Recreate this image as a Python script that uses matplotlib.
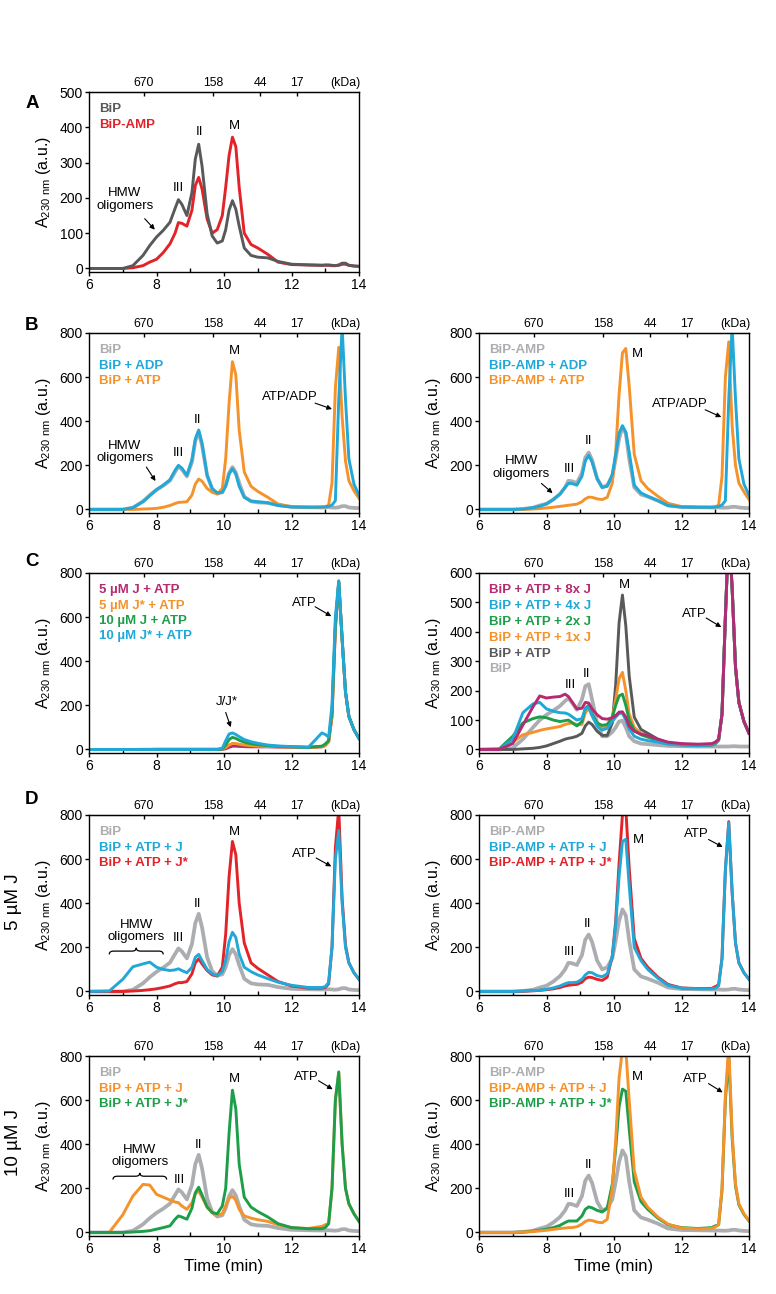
import numpy as np
import matplotlib
matplotlib.use('Agg')
import matplotlib.pyplot as plt
from matplotlib.path import Path
from matplotlib.patches import PathPatch

plt.rcParams['font.family'] = ['Liberation Sans', 'DejaVu Sans']
plt.rcParams['mathtext.fontset'] = 'custom'
plt.rcParams['mathtext.rm'] = 'Liberation Sans'

# elution time grid (min), shared by all traces
t_min = [6.0, 6.6, 7.0, 7.3, 7.6, 7.8, 8.0, 8.2, 8.4, 8.55, 8.65,
         8.75, 8.9, 9.05, 9.15, 9.25, 9.35, 9.5, 9.65, 9.8, 9.95, 10.05,
         10.15, 10.25, 10.35, 10.45, 10.6, 10.8, 11.0, 11.3, 11.6, 12.0, 12.5,
         12.9, 13.0, 13.1, 13.2, 13.3, 13.4, 13.5, 13.6, 13.7, 13.85, 14.0]

# size standards on the top axis
kda_times = [7.62, 9.68, 11.07, 12.16]
kda_labels = ['670', '158', '44', '17']

# --- A / B traces ---
bip = [0, 0, 0, 8, 37, 65, 89, 108, 131, 170, 195,
       182, 150, 215, 310, 352, 290, 155, 92, 72, 78, 110,
       165, 192, 168, 120, 58, 37, 32, 30, 20, 12, 10,
       9, 10, 10, 9, 8, 10, 15, 15, 9, 7, 6]
bip_amp = [0, 0, 0, 2, 8, 18, 26, 45, 70, 100, 130,
           128, 120, 165, 235, 258, 225, 140, 100, 110, 150, 230,
           320, 372, 345, 230, 100, 68, 58, 40, 18, 11, 10,
           9, 9, 9, 8, 8, 9, 12, 12, 9, 7, 6]
bip_adp = [0, 0, 0, 8, 35, 62, 90, 110, 135, 178, 200,
           188, 155, 225, 320, 360, 300, 155, 95, 75, 78, 105,
           160, 185, 160, 105, 55, 38, 35, 30, 18, 11, 10,
           11, 12, 14, 20, 40, 500, 830, 500, 230, 115, 65]
bip_atp = [0, 0, 0, 0, 2, 3, 5, 10, 18, 27, 32,
           33, 35, 65, 115, 138, 128, 95, 78, 70, 95, 230,
           480, 670, 610, 360, 170, 105, 82, 55, 25, 12, 10,
           10, 12, 20, 120, 550, 735, 420, 220, 130, 85, 50]
bipamp_adp = [0, 0, 0, 2, 8, 15, 25, 45, 70, 100, 118,
              118, 110, 150, 220, 245, 215, 140, 100, 105, 160, 250,
              345, 380, 350, 260, 110, 75, 60, 40, 18, 11, 10,
              10, 11, 14, 20, 40, 500, 830, 500, 230, 115, 65]
bipamp_atp = [0, 0, 0, 0, 2, 4, 7, 10, 14, 17, 19,
              21, 24, 35, 48, 56, 55, 48, 45, 55, 120, 260,
              520, 710, 730, 560, 250, 130, 95, 60, 28, 13, 10,
              10, 12, 20, 150, 600, 760, 380, 200, 120, 80, 45]

# --- C left: J alone ---
j5_atp = [0, 0, 0, 0, 0, 0, 0, 0, 0, 0, 0,
          0, 0, 0, 0, 0, 0, 0, 0, 0, 1, 3,
          10, 15, 15, 14, 13, 12, 12, 12, 11, 10, 9,
          12, 18, 35, 150, 550, 760, 500, 260, 150, 90, 50]
js5_atp = [0, 0, 0, 0, 1, 1, 2, 2, 2, 2, 2,
           2, 2, 2, 2, 2, 2, 2, 2, 2, 3, 8,
           20, 28, 27, 24, 20, 17, 15, 13, 12, 11, 10,
           12, 18, 35, 150, 550, 760, 500, 260, 150, 90, 50]
j10_atp = [0, 0, 0, 0, 0, 0, 0, 0, 0, 0, 0,
           0, 0, 0, 0, 0, 0, 0, 0, 0, 2, 20,
           45, 55, 50, 42, 33, 26, 22, 17, 14, 12, 10,
           15, 25, 40, 170, 570, 760, 500, 260, 150, 90, 50]
js10_atp = [0, 0, 0, 0, 0, 0, 0, 0, 0, 0, 0,
            0, 0, 0, 0, 0, 0, 0, 0, 0, 5, 40,
            70, 75, 68, 58, 45, 35, 28, 20, 16, 13, 10,
            75, 68, 56, 200, 600, 765, 500, 260, 150, 90, 50]

# --- C right: J titration ---
bip_c = [0, 0, 5, 35, 75, 100, 118, 132, 148, 165, 174,
         160, 135, 170, 215, 222, 170, 90, 45, 45, 60, 75,
         95, 98, 75, 45, 28, 20, 18, 15, 12, 11, 10,
         10, 10, 10, 10, 10, 10, 11, 11, 10, 10, 10]
bip_atp_c = [0, 0, 0, 2, 4, 7, 12, 20, 28, 35, 38,
             40, 45, 55, 80, 93, 85, 62, 48, 48, 90, 220,
             430, 525, 420, 250, 110, 68, 55, 35, 22, 18, 15,
             15, 20, 32, 120, 450, 750, 550, 280, 160, 95, 55]
bip_1j = [0, 0, 25, 50, 58, 65, 70, 74, 78, 85, 88,
          90, 85, 85, 125, 140, 115, 85, 75, 80, 110, 170,
          240, 262, 200, 120, 75, 55, 45, 30, 20, 16, 14,
          15, 20, 32, 120, 450, 750, 550, 280, 160, 95, 55]
bip_2j = [0, 2, 45, 90, 105, 111, 108, 100, 95, 98, 100,
          92, 80, 95, 140, 150, 120, 90, 82, 85, 110, 150,
          182, 188, 150, 100, 65, 50, 42, 30, 20, 16, 14,
          15, 20, 32, 120, 450, 750, 550, 280, 160, 95, 55]
bip_4j = [0, 0, 35, 125, 155, 160, 138, 130, 125, 124, 120,
          112, 100, 105, 138, 145, 115, 80, 66, 72, 95, 110,
          122, 123, 100, 70, 45, 35, 30, 25, 18, 15, 13,
          15, 20, 32, 120, 450, 750, 550, 280, 160, 95, 55]
bip_8j = [0, 0, 20, 83, 145, 182, 175, 178, 180, 188, 180,
          163, 138, 140, 160, 158, 138, 118, 105, 103, 108, 115,
          127, 128, 110, 80, 62, 52, 48, 35, 25, 20, 18,
          20, 25, 35, 120, 450, 750, 550, 280, 160, 95, 55]

# --- D: 5 uM J ---
bip_atp_j5 = [0, 2, 55, 112, 125, 133, 110, 100, 95, 98, 103,
              95, 85, 110, 155, 168, 140, 100, 80, 72, 90, 140,
              225, 268, 245, 170, 110, 90, 75, 58, 42, 28, 18,
              18, 22, 40, 200, 600, 730, 400, 200, 130, 85, 55]
bip_atp_js5 = [0, 0, 0, 2, 5, 8, 12, 18, 25, 35, 40,
               40, 45, 80, 130, 148, 125, 95, 75, 70, 110, 260,
               520, 680, 620, 400, 220, 130, 105, 75, 45, 25, 15,
               15, 18, 35, 200, 650, 830, 420, 210, 130, 85, 55]
bipamp_atp_j5 = [0, 0, 0, 2, 4, 6, 10, 16, 25, 35, 40,
                 40, 42, 55, 75, 87, 85, 72, 67, 80, 160, 300,
                 520, 680, 690, 480, 200, 140, 100, 60, 28, 15, 12,
                 12, 15, 25, 150, 550, 765, 450, 220, 130, 85, 55]
bipamp_atp_js5 = [0, 0, 0, 1, 3, 5, 8, 12, 18, 25, 28,
                  30, 32, 42, 58, 65, 63, 55, 50, 65, 160, 320,
                  580, 800, 830, 560, 240, 150, 110, 65, 32, 16, 13,
                  14, 22, 30, 150, 550, 770, 450, 220, 130, 85, 55]

# --- D: 10 uM J ---
bip_atp_j10 = [0, 0, 80, 165, 218, 215, 173, 160, 147, 138, 135,
               120, 105, 135, 175, 188, 160, 115, 90, 78, 85, 120,
               155, 165, 145, 105, 75, 65, 58, 50, 35, 22, 18,
               28, 35, 40, 200, 600, 725, 400, 200, 130, 85, 50]
bip_atp_js10 = [0, 0, 0, 2, 5, 8, 15, 22, 30, 60, 75,
                70, 60, 110, 180, 205, 170, 115, 90, 85, 120, 200,
                450, 645, 560, 310, 160, 115, 95, 70, 40, 22, 17,
                17, 22, 40, 200, 600, 728, 400, 200, 130, 85, 50]
bipamp_atp_j10 = [0, 0, 0, 2, 4, 7, 10, 14, 18, 20, 22,
                  22, 26, 38, 50, 56, 54, 47, 44, 60, 200, 420,
                  700, 830, 830, 600, 280, 160, 115, 70, 38, 20, 16,
                  18, 25, 35, 200, 620, 850, 450, 220, 130, 85, 55]
bipamp_atp_js10 = [0, 0, 0, 2, 6, 10, 15, 22, 32, 45, 52,
                   52, 52, 75, 105, 116, 112, 100, 93, 110, 220, 380,
                   570, 650, 640, 470, 230, 140, 105, 65, 35, 22, 18,
                   22, 30, 35, 190, 600, 800, 430, 210, 125, 82, 52]

dark = '#58595b'
light = '#abadb0'
red = '#e2232a'
cyan = '#1fa8d8'
orange = '#f5922a'
green = '#1c9e4a'
magenta = '#b52a70'

W, H = 776, 1294
fig = plt.figure(figsize=(W / 100, H / 100), dpi=100)


def add_ax(col, top_px):
    x0 = 89 if col == 0 else 479
    return fig.add_axes([x0 / W, 1 - (top_px + 180) / H, 270 / W, 180 / H])


def setup(ax, ymax, ystep):
    ax.set_xlim(6, 14)
    ax.set_ylim(-0.02 * ymax, ymax)
    ax.set_xticks([6, 8, 10, 12, 14])
    ax.set_xticks([7, 9, 11, 13], minor=True)
    ax.set_yticks(np.arange(0, ymax + 1, ystep))
    ax.tick_params(axis='x', which='major', direction='out', length=3, width=1, labelsize=10, pad=1.5)
    ax.tick_params(axis='x', which='minor', direction='in', length=3, width=1)
    ax.tick_params(axis='y', direction='out', length=3, width=1, labelsize=10, pad=1.5)
    for s in ax.spines.values():
        s.set_linewidth(1.0)
    ax.set_ylabel(r'A$_\mathrm{230\ nm}$ (a.u.)', fontsize=11.5)
    ax.yaxis.set_label_coords(-0.135, 0.5)
    top = ax.secondary_xaxis('top')
    top.set_xticks(kda_times, kda_labels)
    top.tick_params(direction='in', length=3, width=1, labelsize=8.8, pad=2.5)
    ax.annotate('(kDa)', xy=(13.6, 1), xycoords=('data', 'axes fraction'),
                xytext=(0, 2.5), textcoords='offset points', ha='center', va='bottom', fontsize=8.8)


def legend(ax, labels, colors, dy=0.085):
    for i, (lab, c) in enumerate(zip(labels, colors)):
        ax.text(0.038, 0.904 - i * dy, lab, color=c, fontweight='bold', fontsize=9.5,
                transform=ax.transAxes, ha='left', va='center')


def note(ax, x, y, s):
    ax.text(x, y, s, ha='center', va='center', fontsize=9.5, linespacing=1.05)


def arrow(ax, x0, y0, x1, y1):
    ax.annotate('', xy=(x1, y1), xytext=(x0, y0),
                arrowprops=dict(arrowstyle='-|>', color='black', lw=0.8, mutation_scale=7,
                                shrinkA=0, shrinkB=0))


def brace(ax, x0, x1, y0, h):
    xm = (x0 + x1) / 2
    q = (x1 - x0) * 0.08
    verts = [(x0, y0), (x0, y0 + h / 2), (x0 + q, y0 + h / 2), (xm - q, y0 + h / 2),
             (xm, y0 + h / 2), (xm, y0 + h), (xm, y0 + h / 2), (xm + q, y0 + h / 2),
             (x1 - q, y0 + h / 2), (x1, y0 + h / 2), (x1, y0)]
    codes = [Path.MOVETO, Path.CURVE3, Path.CURVE3, Path.LINETO,
             Path.CURVE3, Path.CURVE3, Path.CURVE3, Path.CURVE3,
             Path.LINETO, Path.CURVE3, Path.CURVE3]
    ax.add_patch(PathPatch(Path(verts, codes), fc='none', ec='black', lw=0.9))


lw = 2.1
lw_gray = 2.7

# A
ax = add_ax(0, 92)
setup(ax, 500, 100)
ax.plot(t_min, bip_amp, color=red, lw=lw)
ax.plot(t_min, bip, color=dark, lw=lw)
legend(ax, ['BiP', 'BiP-AMP'], [dark, red])
note(ax, 7.06, 195, 'HMW\noligomers')
arrow(ax, 7.65, 141, 7.95, 110)
note(ax, 8.66, 228, 'III')
note(ax, 9.26, 387, 'II')
note(ax, 10.3, 404, 'M')

# B left
ax = add_ax(0, 333)
setup(ax, 800, 200)
ax.plot(t_min, bip, color=light, lw=lw_gray)
ax.plot(t_min, bip_atp, color=orange, lw=lw)
ax.plot(t_min, bip_adp, color=cyan, lw=lw)
legend(ax, ['BiP', 'BiP + ADP', 'BiP + ATP'], [light, cyan, orange])
note(ax, 7.06, 260, 'HMW\noligomers')
arrow(ax, 7.7, 192, 7.97, 129)
note(ax, 8.66, 254, 'III')
note(ax, 9.21, 404, 'II')
note(ax, 10.3, 719, 'M')
note(ax, 11.96, 512, 'ATP/ADP')
arrow(ax, 12.7, 482, 13.2, 455)

# B right
ax = add_ax(1, 333)
setup(ax, 800, 200)
ax.plot(t_min, bip_amp, color=light, lw=lw_gray)
ax.plot(t_min, bipamp_atp, color=orange, lw=lw)
ax.plot(t_min, bipamp_adp, color=cyan, lw=lw)
legend(ax, ['BiP-AMP', 'BiP-AMP + ADP', 'BiP-AMP + ATP'], [light, cyan, orange])
note(ax, 7.26, 190, 'HMW\noligomers')
arrow(ax, 7.85, 118, 8.18, 74)
note(ax, 8.69, 182, 'III')
note(ax, 9.25, 309, 'II')
note(ax, 10.69, 703, 'M')
note(ax, 11.94, 477, 'ATP/ADP')
arrow(ax, 12.7, 452, 13.18, 419)

# C left
ax = add_ax(0, 573)
setup(ax, 800, 200)
for y, c in [(j5_atp, magenta), (js5_atp, orange), (j10_atp, green), (js10_atp, cyan)]:
    ax.plot(t_min, y, color=c, lw=lw)
legend(ax, ['5 µM J + ATP', '5 µM J* + ATP', '10 µM J + ATP', '10 µM J* + ATP'],
       [magenta, orange, green, cyan])
note(ax, 12.38, 665, 'ATP')
arrow(ax, 12.7, 647, 13.18, 604)
note(ax, 10.08, 214, 'J/J*')
arrow(ax, 10.05, 168, 10.2, 101)

# C right
ax = add_ax(1, 573)
setup(ax, 600, 100)
ax.plot(t_min, bip_c, color=light, lw=lw_gray)
for y, c in [(bip_atp_c, dark), (bip_1j, orange), (bip_2j, green), (bip_4j, cyan), (bip_8j, magenta)]:
    ax.plot(t_min, y, color=c, lw=lw)
legend(ax, ['BiP + ATP + 8x J', 'BiP + ATP + 4x J', 'BiP + ATP + 2x J', 'BiP + ATP + 1x J',
            'BiP + ATP', 'BiP'], [magenta, cyan, green, orange, dark, light], dy=0.088)
note(ax, 8.7, 219, 'III')
note(ax, 9.2, 256, 'II')
note(ax, 10.3, 558, 'M')
note(ax, 12.38, 461, 'ATP')
arrow(ax, 12.73, 447, 13.18, 416)

# D, 5 uM J
ax = add_ax(0, 815)
setup(ax, 800, 200)
ax.plot(t_min, bip, color=light, lw=lw_gray)
ax.plot(t_min, bip_atp_js5, color=red, lw=lw)
ax.plot(t_min, bip_atp_j5, color=cyan, lw=lw)
legend(ax, ['BiP', 'BiP + ATP + J', 'BiP + ATP + J*'], [light, cyan, red])
note(ax, 7.4, 274, 'HMW\noligomers')
brace(ax, 6.6, 8.2, 168, 30)
note(ax, 8.66, 244, 'III')
note(ax, 9.22, 398, 'II')
note(ax, 10.3, 725, 'M')
note(ax, 12.38, 624, 'ATP')
arrow(ax, 12.73, 605, 13.18, 567)

ax = add_ax(1, 815)
setup(ax, 800, 200)
ax.plot(t_min, bip_amp, color=light, lw=lw_gray)
ax.plot(t_min, bipamp_atp_js5, color=red, lw=lw)
ax.plot(t_min, bipamp_atp_j5, color=cyan, lw=lw)
legend(ax, ['BiP-AMP', 'BiP-AMP + ATP + J', 'BiP-AMP + ATP + J*'], [light, cyan, red])
note(ax, 8.69, 180, 'III')
note(ax, 9.22, 304, 'II')
note(ax, 10.73, 686, 'M')
note(ax, 12.44, 712, 'ATP')
arrow(ax, 12.8, 689, 13.22, 655)

# D, 10 uM J
ax = add_ax(0, 1056)
setup(ax, 800, 200)
ax.plot(t_min, bip, color=light, lw=lw_gray)
ax.plot(t_min, bip_atp_j10, color=orange, lw=lw)
ax.plot(t_min, bip_atp_js10, color=green, lw=lw)
legend(ax, ['BiP', 'BiP + ATP + J', 'BiP + ATP + J*'], [light, orange, green])
note(ax, 7.5, 347, 'HMW\noligomers')
brace(ax, 6.71, 8.3, 240, 30)
note(ax, 8.67, 240, 'III')
note(ax, 9.24, 398, 'II')
note(ax, 10.3, 698, 'M')
note(ax, 12.44, 706, 'ATP')
arrow(ax, 12.8, 688, 13.22, 649)
ax.set_xlabel('Time (min)', fontsize=12, labelpad=2)

ax = add_ax(1, 1056)
setup(ax, 800, 200)
ax.plot(t_min, bip_amp, color=light, lw=lw_gray)
ax.plot(t_min, bipamp_atp_js10, color=green, lw=lw)
ax.plot(t_min, bipamp_atp_j10, color=orange, lw=lw)
legend(ax, ['BiP-AMP', 'BiP-AMP + ATP + J', 'BiP-AMP + ATP + J*'], [light, orange, green])
note(ax, 8.69, 176, 'III')
note(ax, 9.24, 304, 'II')
note(ax, 10.7, 705, 'M')
note(ax, 12.42, 695, 'ATP')
arrow(ax, 12.8, 675, 13.22, 635)
ax.set_xlabel('Time (min)', fontsize=12, labelpad=2)

# panel letters and row labels
for letter, ypx in [('A', 103), ('B', 325), ('C', 562), ('D', 800)]:
    fig.text(32 / W, 1 - ypx / H, letter, fontsize=13.5, fontweight='bold', ha='center', va='center')
fig.text(13 / W, 1 - 902 / H, '5 µM J', rotation=90, fontsize=13.5, ha='center', va='center')
fig.text(13 / W, 1 - 1143 / H, '10 µM J', rotation=90, fontsize=13.5, ha='center', va='center')

fig.savefig('out.png', dpi=100)
